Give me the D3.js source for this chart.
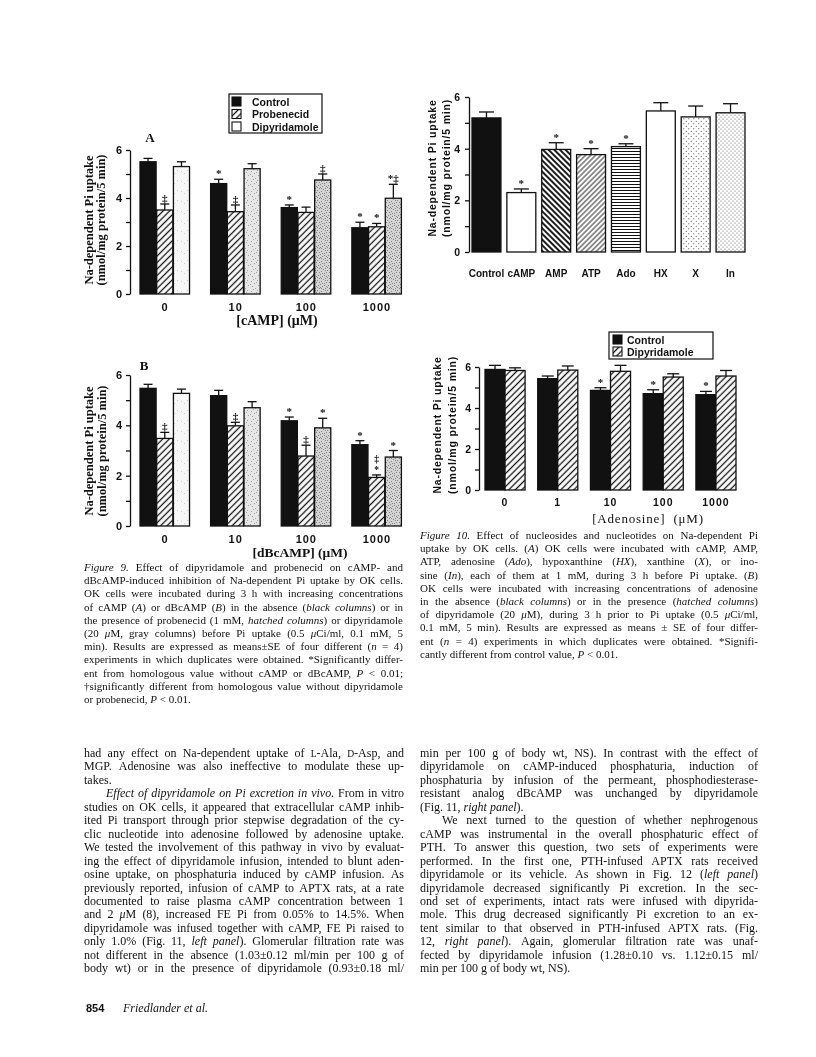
<!DOCTYPE html>
<html><head><meta charset="utf-8">
<script src="https://cdn.jsdelivr.net/npm/d3@7"></script>
<style>body{margin:0;background:#fff}svg{display:block;filter:grayscale(1)}</style>
</head><body><svg id="c" width="816" height="1057"></svg>
<script>
// ================= DATA =================
const fig9Groups = ["0", "10", "100", "1000"];
const fig9Series = ["Control", "Probenecid", "Dipyridamole"];
const campMeans = [[5.51, 3.50, 5.31], [4.60, 3.43, 5.22], [3.60, 3.40, 4.75], [2.76, 2.80, 3.99]];
const campSE    = [[0.14, 0.25, 0.20], [0.18, 0.28, 0.21], [0.11, 0.22, 0.25], [0.23, 0.14, 0.58]];
const campMarks = [["", "‡", ""], ["*", "‡", ""], ["*", "", "‡"], ["*", "*", "*‡"]];
const dbMeans = [[5.47, 3.48, 5.27], [5.18, 3.98, 4.70], [4.18, 2.78, 3.90], [3.23, 1.93, 2.74]];
const dbSE    = [[0.16, 0.24, 0.17], [0.21, 0.14, 0.24], [0.15, 0.43, 0.38], [0.16, 0.10, 0.26]];
const dbMarks = [["", "‡", ""], ["", "‡", ""], ["*", "‡", "*"], ["*", "‡|*", "*"]];

const fig10aCats  = ["Control", "cAMP", "AMP", "ATP", "Ado", "HX", "X", "In"];
const fig10aMeans = [5.19, 2.30, 3.97, 3.77, 4.08, 5.46, 5.23, 5.39];
const fig10aSE    = [0.23, 0.14, 0.26, 0.23, 0.11, 0.32, 0.42, 0.35];
const fig10aMarks = ["", "*", "*", "*", "*", "", "", ""];

const fig10bGroups = ["0", "1", "10", "100", "1000"];
const fig10bSeries = ["Control", "Dipyridamole"];
const adoCtrlMeans = [5.88, 5.43, 4.86, 4.70, 4.65];
const adoCtrlSE    = [0.20, 0.13, 0.13, 0.19, 0.16];
const adoDipyMeans = [5.83, 5.85, 5.79, 5.51, 5.56];
const adoDipySE    = [0.13, 0.20, 0.29, 0.16, 0.27];
const adoCtrlMarks = ["", "", "*", "*", "*"];
const adoDipyMarks = ["", "", "", "", ""];
const yTicks = [0, 1, 2, 3, 4, 5, 6];

// ================= SETUP =================
const svg = d3.select("#c");
const SANS = "'Liberation Sans', Arial, Helvetica, sans-serif";
const SERIF = "'Liberation Serif', 'Times New Roman', Times, serif";
const INK = "#111";
svg.append("rect").attr("width", 816).attr("height", 1057).attr("fill", "#fff");
const defs = svg.append("defs");

function linePattern(id, angle, s, sw) {
  const p = defs.append("pattern").attr("id", id).attr("patternUnits", "userSpaceOnUse")
    .attr("width", s).attr("height", s).attr("patternTransform", `rotate(${angle})`);
  p.append("rect").attr("width", s).attr("height", s).attr("fill", "#fff");
  p.append("line").attr("x1", s / 2).attr("x2", s / 2).attr("y1", -1).attr("y2", s + 1)
    .attr("stroke", INK).attr("stroke-width", sw);
}
linePattern("hatch", 45, 4.6, 1.3);
linePattern("pAMP", -45, 4.0, 1.9);
linePattern("pATP", 45, 3.6, 0.9);
linePattern("pAdo", 90, 3.0, 1.0);
function dotPattern(id, s, r) {
  const p = defs.append("pattern").attr("id", id).attr("patternUnits", "userSpaceOnUse")
    .attr("width", s).attr("height", s);
  p.append("rect").attr("width", s).attr("height", s).attr("fill", "#fff");
  p.append("circle").attr("cx", s / 4).attr("cy", s / 4).attr("r", r).attr("fill", "#333");
  p.append("circle").attr("cx", 3 * s / 4).attr("cy", 3 * s / 4).attr("r", r).attr("fill", "#333");
}
dotPattern("pX", 5, 0.55);
dotPattern("pIn", 4, 0.5);
const stipplePts = [[1,1],[4,3],[7,0],[2,6],[8,5],[5,8],[0,4],[6,2],[3,9],[9,8],[7,7],[4,5],[1,8],[9,2],[5,0],[2,3],[6,6],[0,7]];
function stipple(id, bg, dot, n) {
  const p = defs.append("pattern").attr("id", id).attr("patternUnits", "userSpaceOnUse")
    .attr("width", 10).attr("height", 10);
  p.append("rect").attr("width", 10).attr("height", 10).attr("fill", bg);
  stipplePts.slice(0, n).forEach(d => p.append("rect").attr("x", d[0]).attr("y", d[1])
    .attr("width", 1).attr("height", 1).attr("fill", dot));
}
stipple("gray0", "#f7f7f7", "#cfcfcf", 3);
stipple("gray1", "#e6e6e6", "#a6a6a6", 9);
stipple("gray2", "#d3d3d3", "#8a8a8a", 18);
const grayByGroup = ["url(#gray0)", "url(#gray1)", "url(#gray2)", "url(#gray2)"];

// ================= CHART HELPERS =================
function drawAxis(y, axisX, fs, pad) {
  const ax = d3.axisLeft(y).tickValues(yTicks).tickSize(4).tickSizeOuter(0).tickPadding(pad)
    .tickFormat(d => d % 2 === 0 ? d : "");
  const ag = svg.append("g").attr("transform", `translate(${axisX},0)`).call(ax);
  ag.select(".domain").attr("stroke", INK).attr("stroke-width", 1.3);
  ag.selectAll(".tick line").attr("stroke", INK).attr("stroke-width", 1.3);
  ag.selectAll(".tick text").attr("font-family", SANS).attr("font-weight", "bold")
    .attr("font-size", fs).attr("fill", INK);
}

function drawMark(str, cx, yTop, fs) {
  if (!str) return;
  const lines = str.split("|");
  const stacked = lines.length > 1;
  lines.forEach((ln, i) => {
    const k = lines.length - 1 - i;
    svg.append("text").attr("x", cx).attr("y", yTop - 2 - k * 10.5).attr("text-anchor", "middle")
      .attr("font-family", SERIF).attr("font-weight", "bold").attr("font-size", stacked ? 9.5 : fs)
      .attr("fill", INK).text(ln);
  });
}

function groupedBars(cfg) {
  const y = d3.scaleLinear().domain([0, 6]).range([cfg.yBot, cfg.yTop]);
  const xb = d3.scaleBand().domain(cfg.groups).range(cfg.xRange).paddingInner(cfg.pad).paddingOuter(0);
  const xs = d3.scaleBand().domain(cfg.series).range([0, xb.bandwidth()]);
  drawAxis(y, cfg.axisX, cfg.tickFs, cfg.tickPad);
  cfg.groups.forEach((gr, gi) => {
    cfg.series.forEach((s, si) => {
      const m = cfg.means[gi][si], e = cfg.ses[gi][si];
      const x = xb(gr) + xs(s), w = xs.bandwidth() - (cfg.gap || 0);
      const cx = x + w / 2;
      svg.append("line").attr("x1", cx).attr("x2", cx).attr("y1", y(m)).attr("y2", y(m + e))
        .attr("stroke", INK).attr("stroke-width", 1.3);
      svg.append("line").attr("x1", cx - cfg.cap).attr("x2", cx + cfg.cap).attr("y1", y(m + e)).attr("y2", y(m + e))
        .attr("stroke", INK).attr("stroke-width", 1.3);
      svg.append("rect").attr("x", x).attr("y", y(m)).attr("width", w).attr("height", y(0) - y(m))
        .attr("fill", cfg.fill(gi, si)).attr("stroke", INK).attr("stroke-width", 1.3);
      if (cfg.marks) drawMark(cfg.marks[gi][si], cx, y(m + e), cfg.markFs || 11);
    });
    svg.append("text").attr("x", xb(gr) + xb.bandwidth() / 2).attr("y", cfg.labelY)
      .attr("text-anchor", "middle").attr("font-family", SANS).attr("font-weight", "bold")
      .attr("font-size", cfg.labelFs).attr("letter-spacing", cfg.labelLs || 0).attr("fill", INK).text(gr);
  });
  return { y, xb, xs };
}

function yTitle(x1, x2, cy, family, fs, ls, weight) {
  [["Na-dependent Pi uptake", x1], ["(nmol/mg protein/5 min)", x2]].forEach(([t, x]) => {
    svg.append("text").attr("transform", `translate(${x},${cy}) rotate(-90)`).attr("text-anchor", "middle")
      .attr("font-family", family).attr("font-weight", weight).attr("font-size", fs)
      .attr("letter-spacing", ls).attr("fill", INK).text(t);
  });
}

// ================= FIGURE 9A =================
const fill9 = (gi, si) => si === 0 ? INK : si === 1 ? "url(#hatch)" : grayByGroup[gi];
groupedBars({ groups: fig9Groups, series: fig9Series, means: campMeans, ses: campSE, marks: campMarks,
  xRange: [140, 402], pad: 0.29, yTop: 150, yBot: 294, axisX: 130, tickFs: 11, tickPad: 4,
  fill: fill9, cap: 4.5, gap: 0.6, labelY: 311, labelFs: 11, labelLs: 1 });
yTitle(93, 105, 220, SERIF, 12.5, 0, "bold");
svg.append("text").attr("x", 150).attr("y", 142).attr("text-anchor", "middle").attr("font-family", SERIF)
  .attr("font-weight", "bold").attr("font-size", 13).attr("fill", INK).text("A");
svg.append("text").attr("x", 277).attr("y", 325).attr("text-anchor", "middle").attr("font-family", SERIF)
  .attr("font-weight", "bold").attr("font-size", 14).attr("fill", INK).text("[cAMP] (μM)");
// legend 9A
svg.append("rect").attr("x", 229).attr("y", 94).attr("width", 93).attr("height", 39)
  .attr("fill", "#fff").attr("stroke", INK).attr("stroke-width", 1.2);
fig9Series.forEach((s, i) => {
  const yy = 97 + i * 12.5;
  svg.append("rect").attr("x", 232).attr("y", yy).attr("width", 9).attr("height", 9)
    .attr("fill", i === 0 ? INK : i === 1 ? "url(#hatch)" : "#fff").attr("stroke", INK).attr("stroke-width", 1.1);
  svg.append("text").attr("x", 252).attr("y", yy + 8.5).attr("font-family", SANS).attr("font-weight", "bold")
    .attr("font-size", 10.5).attr("fill", INK).text(s);
});

// ================= FIGURE 9B =================
groupedBars({ groups: fig9Groups, series: fig9Series, means: dbMeans, ses: dbSE, marks: dbMarks,
  xRange: [140, 402], pad: 0.29, yTop: 375, yBot: 526, axisX: 130, tickFs: 11, tickPad: 4,
  fill: fill9, cap: 4.5, gap: 0.6, labelY: 543, labelFs: 11, labelLs: 1 });
yTitle(93, 106, 451, SERIF, 12.5, 0, "bold");
svg.append("text").attr("x", 144).attr("y", 370).attr("text-anchor", "middle").attr("font-family", SERIF)
  .attr("font-weight", "bold").attr("font-size", 13).attr("fill", INK).text("B");
svg.append("text").attr("x", 300).attr("y", 557).attr("text-anchor", "middle").attr("font-family", SERIF)
  .attr("font-weight", "bold").attr("font-size", 13.5).attr("fill", INK).text("[dBcAMP] (μM)");

// ================= FIGURE 10A =================
const fill10a = ["#111", "#fff", "url(#pAMP)", "url(#pATP)", "url(#pAdo)", "#fff", "url(#pX)", "url(#pIn)"];
groupedBars({ groups: fig10aCats, series: ["v"], means: fig10aMeans.map(v => [v]),
  ses: fig10aSE.map(v => [v]), marks: fig10aMarks.map(v => [v]),
  xRange: [472, 745], pad: 0.17, yTop: 97, yBot: 252, axisX: 469, tickFs: 10.5, tickPad: 5,
  fill: (gi) => fill10a[gi], cap: 7.5, labelY: 277, labelFs: 10, labelLs: 0 });
yTitle(436, 450, 168, SANS, 10.5, 0.8, "bold");

// ================= FIGURE 10B =================
const ado = fig10bGroups.map((g, i) => [adoCtrlMeans[i], adoDipyMeans[i]]);
const adoSE = fig10bGroups.map((g, i) => [adoCtrlSE[i], adoDipySE[i]]);
const adoMk = fig10bGroups.map((g, i) => [adoCtrlMarks[i], adoDipyMarks[i]]);
groupedBars({ groups: fig10bGroups, series: fig10bSeries, means: ado, ses: adoSE, marks: adoMk,
  xRange: [485, 736], pad: 0.24, yTop: 367, yBot: 490, axisX: 479, tickFs: 10.5, tickPad: 4,
  fill: (gi, si) => si === 0 ? INK : "url(#hatch)", cap: 6, labelY: 506, labelFs: 10.5, labelLs: 1 });
yTitle(441, 456, 425, SANS, 10.5, 0.8, "bold");
svg.append("text").attr("x", 648).attr("y", 523).attr("text-anchor", "middle").attr("font-family", SERIF)
  .attr("font-size", 13).attr("letter-spacing", 0.8).attr("fill", INK).attr("xml:space", "preserve")
  .text("[Adenosine]  (μM)");
// legend 10B
svg.append("rect").attr("x", 609).attr("y", 332).attr("width", 104).attr("height", 27)
  .attr("fill", "#fff").attr("stroke", INK).attr("stroke-width", 1.2);
fig10bSeries.forEach((s, i) => {
  const yy = 335 + i * 12;
  svg.append("rect").attr("x", 613).attr("y", yy).attr("width", 9).attr("height", 9)
    .attr("fill", i === 0 ? INK : "url(#hatch)").attr("stroke", INK).attr("stroke-width", 1.1);
  svg.append("text").attr("x", 627).attr("y", yy + 8.5).attr("font-family", SANS).attr("font-weight", "bold")
    .attr("font-size", 10.5).attr("fill", INK).text(s);
});

// ================= TEXT =================
function tokenize(line) {
  const words = []; let cur = []; let seg = { t: "", i: false, sc: false };
  let it = false, sc = false;
  const flush = () => { if (seg.t) cur.push(seg); seg = { t: "", i: it, sc: sc }; };
  for (const ch of line) {
    if (ch === "{") { flush(); it = true; seg.i = true; }
    else if (ch === "}") { flush(); it = false; seg.i = false; }
    else if (ch === "^") { flush(); sc = !sc; seg.sc = sc; }
    else if (ch === " ") { flush(); if (cur.length) words.push(cur); cur = []; }
    else seg.t += ch;
  }
  flush(); if (cur.length) words.push(cur);
  return words;
}
function drawLine(line, x, y, width, justify, fs) {
  const words = tokenize(line);
  const nodes = words.map(w => {
    const t = svg.append("text").attr("y", y).attr("font-family", SERIF).attr("font-size", fs).attr("fill", INK);
    w.forEach(s => t.append("tspan").text(s.t).attr("font-style", s.i ? "italic" : null)
      .attr("font-size", s.sc ? fs * 0.8 : null));
    return t;
  });
  const widths = nodes.map(n => n.node().getComputedTextLength());
  const total = d3.sum(widths), gaps = nodes.length - 1;
  const sp = (justify && gaps > 0) ? (width - total) / gaps : fs * 0.25;
  let cx = x;
  nodes.forEach((n, i) => { n.attr("x", cx); cx += widths[i] + sp; });
}
function drawBlock(lines, x, y0, width, lh, fs) {
  lines.forEach((l, i) => {
    const ind = l.ind ? 22 : 0;
    drawLine(l.t, x + ind, y0 + i * lh, width - ind, l.j !== false, fs);
  });
}

const cap9 = [
  { t: "{Figure 9.} Effect of dipyridamole and probenecid on cAMP- and" },
  { t: "dBcAMP-induced inhibition of Na-dependent Pi uptake by OK cells." },
  { t: "OK cells were incubated during 3 h with increasing concentrations" },
  { t: "of cAMP ({A}) or dBcAMP ({B}) in the absence ({black columns}) or in" },
  { t: "the presence of probenecid (1 mM, {hatched columns}) or dipyridamole" },
  { t: "(20 {μ}M, gray columns) before Pi uptake (0.5 {μ}Ci/ml, 0.1 mM, 5" },
  { t: "min). Results are expressed as means±SE of four different ({n} = 4)" },
  { t: "experiments in which duplicates were obtained. *Significantly differ-" },
  { t: "ent from homologous value without cAMP or dBcAMP, {P} < 0.01;" },
  { t: "†significantly different from homologous value without dipyridamole" },
  { t: "or probenecid, {P} < 0.01.", j: false }
];
const cap10 = [
  { t: "{Figure 10.} Effect of nucleosides and nucleotides on Na-dependent Pi" },
  { t: "uptake by OK cells. ({A}) OK cells were incubated with cAMP, AMP," },
  { t: "ATP, adenosine ({Ado}), hypoxanthine ({HX}), xanthine ({X}), or ino-" },
  { t: "sine ({In}), each of them at 1 mM, during 3 h before Pi uptake. ({B})" },
  { t: "OK cells were incubated with increasing concentrations of adenosine" },
  { t: "in the absence ({black columns}) or in the presence ({hatched columns})" },
  { t: "of dipyridamole (20 {μ}M), during 3 h prior to Pi uptake (0.5 {μ}Ci/ml," },
  { t: "0.1 mM, 5 min). Results are expressed as means ± SE of four differ-" },
  { t: "ent ({n} = 4) experiments in which duplicates were obtained. *Signifi-" },
  { t: "cantly different from control value, {P} < 0.01.", j: false }
];
const bodyLeft = [
  { t: "had any effect on Na-dependent uptake of ^L^-Ala, ^D^-Asp, and" },
  { t: "MGP. Adenosine was also ineffective to modulate these up-" },
  { t: "takes.", j: false },
  { t: "{Effect of dipyridamole on Pi excretion in vivo.} From in vitro", ind: true },
  { t: "studies on OK cells, it appeared that extracellular cAMP inhib-" },
  { t: "ited Pi transport through prior stepwise degradation of the cy-" },
  { t: "clic nucleotide into adenosine followed by adenosine uptake." },
  { t: "We tested the involvement of this pathway in vivo by evaluat-" },
  { t: "ing the effect of dipyridamole infusion, intended to blunt aden-" },
  { t: "osine uptake, on phosphaturia induced by cAMP infusion. As" },
  { t: "previously reported, infusion of cAMP to APTX rats, at a rate" },
  { t: "documented to raise plasma cAMP concentration between 1" },
  { t: "and 2 {μ}M (8), increased FE Pi from 0.05% to 14.5%. When" },
  { t: "dipyridamole was infused together with cAMP, FE Pi raised to" },
  { t: "only 1.0% (Fig. 11, {left panel}). Glomerular filtration rate was" },
  { t: "not different in the absence (1.03±0.12 ml/min per 100 g of" },
  { t: "body wt) or in the presence of dipyridamole (0.93±0.18 ml/" }
];
const bodyRight = [
  { t: "min per 100 g of body wt, NS). In contrast with the effect of" },
  { t: "dipyridamole on cAMP-induced phosphaturia, induction of" },
  { t: "phosphaturia by infusion of the permeant, phosphodiesterase-" },
  { t: "resistant analog dBcAMP was unchanged by dipyridamole" },
  { t: "(Fig. 11, {right panel}).", j: false },
  { t: "We next turned to the question of whether nephrogenous", ind: true },
  { t: "cAMP was instrumental in the overall phosphaturic effect of" },
  { t: "PTH. To answer this question, two sets of experiments were" },
  { t: "performed. In the first one, PTH-infused APTX rats received" },
  { t: "dipyridamole or its vehicle. As shown in Fig. 12 ({left panel})" },
  { t: "dipyridamole decreased significantly Pi excretion. In the sec-" },
  { t: "ond set of experiments, intact rats were infused with dipyrida-" },
  { t: "mole. This drug decreased significantly Pi excretion to an ex-" },
  { t: "tent similar to that observed in PTH-infused APTX rats. (Fig." },
  { t: "12, {right panel}). Again, glomerular filtration rate was unaf-" },
  { t: "fected by dipyridamole infusion (1.28±0.10 vs. 1.12±0.15 ml/" },
  { t: "min per 100 g of body wt, NS).", j: false }
];
drawBlock(cap9, 84, 571, 319, 13.2, 11);
drawBlock(cap10, 420, 539, 338, 13.2, 11);
drawBlock(bodyLeft, 84, 757, 320, 13.45, 12);
drawBlock(bodyRight, 420, 757, 338, 13.45, 12);

svg.append("text").attr("x", 86).attr("y", 1012).attr("font-family", SANS).attr("font-weight", "bold")
  .attr("font-size", 11).attr("fill", INK).text("854");
svg.append("text").attr("x", 123).attr("y", 1012).attr("font-family", SERIF).attr("font-style", "italic")
  .attr("font-size", 12).attr("fill", INK).text("Friedlander et al.");
</script></body></html>
